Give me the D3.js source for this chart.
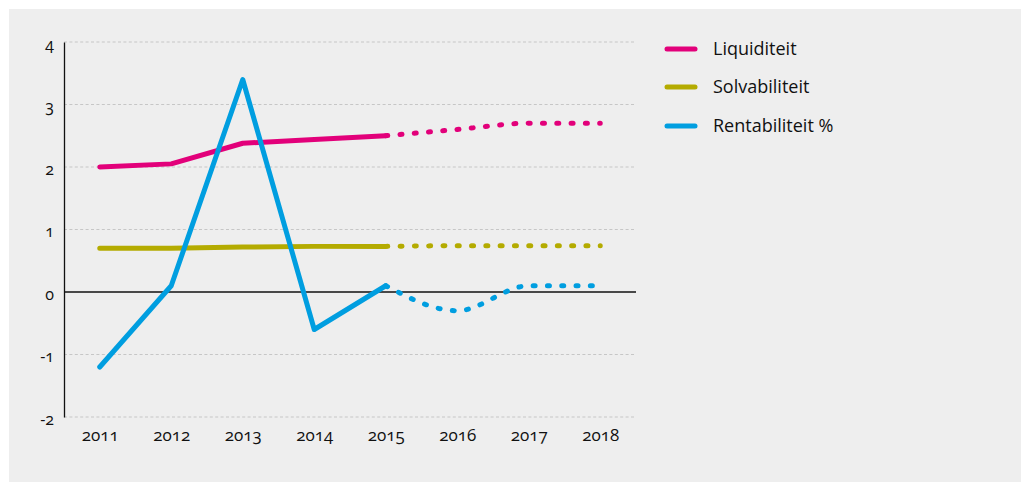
<!DOCTYPE html>
<html>
<head>
<meta charset="utf-8">
<script src="https://cdn.jsdelivr.net/npm/d3@7"></script>
<style>
  html, body { margin: 0; padding: 0; background: #ffffff; }
  svg { display: block; }
  text { font-family: "Open Sans", "Noto Sans", sans-serif; fill: #111; }
  .tick text { font-variant-numeric: oldstyle-nums; font-feature-settings: "onum" 1; }
</style>
</head>
<body>
<svg id="chart" width="1021" height="482"></svg>
<script>
// Years on the x axis; 2016–2018 are forecasts (drawn dotted)
const years = ["2011", "2012", "2013", "2014", "2015", "2016", "2017", "2018"];
const lastActual = "2015";

const liquiditeit = [2.0, 2.05, 2.38, 2.44, 2.5, 2.6, 2.7, 2.7];
const solvabiliteit = [0.7, 0.7, 0.72, 0.73, 0.73, 0.74, 0.74, 0.74];
const rentabiliteit = [-1.2, 0.1, 3.4, -0.6, 0.1, -0.3, 0.1, 0.1];

const yTicks = [-2, -1, 0, 1, 2, 3, 4];

const seriesNames = ["Liquiditeit", "Solvabiliteit", "Rentabiliteit %"];
const seriesColors = ["#e2007a", "#b4ab00", "#009ee0"];
const seriesValues = [liquiditeit, solvabiliteit, rentabiliteit];

const svg = d3.select("#chart");

// panel background
svg.append("rect")
  .attr("x", 9).attr("y", 9)
  .attr("width", 1012).attr("height", 473)
  .attr("fill", "#eeeeee");

const x = d3.scalePoint().domain(years).range([64, 636]).padding(0.5);
const y = d3.scaleLinear().domain([-2, 4]).range([417, 42]);

// horizontal grid lines
svg.append("g")
  .selectAll("line")
  .data(yTicks.filter(d => d !== 0))
  .join("line")
  .attr("x1", 64).attr("x2", 636)
  .attr("y1", d => y(d)).attr("y2", d => y(d))
  .attr("stroke", "#c6c6c6")
  .attr("stroke-width", 1)
  .attr("stroke-dasharray", "3 2.4");

// y axis
const yAxis = svg.append("g")
  .attr("transform", "translate(64,0)")
  .call(d3.axisLeft(y).tickValues(yTicks).tickSize(0).tickPadding(10).tickFormat(d => d < 0 ? "-" + Math.abs(d) : d));
yAxis.select(".domain").attr("stroke", "#111").attr("stroke-width", 1.3);
yAxis.selectAll(".tick text").style("font-size", "16px").attr("dy", "0.45em");

// x axis labels
const xAxis = svg.append("g")
  .attr("transform", "translate(0,417)")
  .call(d3.axisBottom(x).tickSize(0).tickPadding(12));
xAxis.select(".domain").remove();
xAxis.selectAll(".tick text").style("font-size", "17px");

// zero line
svg.append("line")
  .attr("x1", 64).attr("x2", 636)
  .attr("y1", y(0)).attr("y2", y(0))
  .attr("stroke", "#111").attr("stroke-width", 1.3);

const cut = years.indexOf(lastActual);
const solid = d3.line().x(d => x(d.year)).y(d => y(d.value));
const dotted = d3.line().x(d => x(d.year)).y(d => y(d.value)).curve(d3.curveMonotoneX);

seriesValues.forEach((vals, i) => {
  const pts = years.map((yr, j) => ({ year: yr, value: vals[j] }));
  // forecast part
  svg.append("path")
    .datum(pts.slice(cut))
    .attr("d", dotted)
    .attr("fill", "none")
    .attr("stroke", seriesColors[i])
    .attr("stroke-width", 5)
    .attr("stroke-linecap", "round")
    .attr("stroke-dasharray", "2 12.3");
  // actual part
  svg.append("path")
    .datum(pts.slice(0, cut + 1))
    .attr("d", solid)
    .attr("fill", "none")
    .attr("stroke", seriesColors[i])
    .attr("stroke-width", 5)
    .attr("stroke-linecap", "round")
    .attr("stroke-linejoin", "round");
});

// legend
const legend = svg.append("g");
const legendY = [49, 87, 126];
seriesNames.forEach((name, i) => {
  legend.append("line")
    .attr("x1", 667).attr("x2", 695)
    .attr("y1", legendY[i]).attr("y2", legendY[i])
    .attr("stroke", seriesColors[i])
    .attr("stroke-width", 5)
    .attr("stroke-linecap", "round");
  legend.append("text")
    .attr("x", 713).attr("y", legendY[i])
    .attr("dy", "0.35em")
    .style("font-size", "18px")
    .text(name);
});
</script>
</body>
</html>
